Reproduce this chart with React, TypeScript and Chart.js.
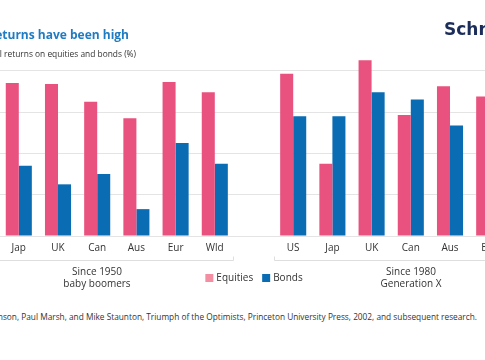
import React, { useEffect, useRef } from "react";
import { Chart, registerables } from "chart.js";

Chart.register(...registerables);

const categories = ["US", "Jap", "UK", "Can", "Aus", "Eur", "Wld", "", "US", "Jap", "UK", "Can", "Aus", "Eur", "Wld"];
const equities = [7.0, 7.4, 7.35, 6.5, 5.7, 7.45, 6.95, null, 7.85, 3.5, 8.5, 5.85, 7.25, 6.75, 6.5];
const bonds = [2.6, 3.4, 2.5, 3.0, 1.3, 4.5, 3.5, null, 5.8, 5.8, 6.95, 6.6, 5.35, 6.1, 6.2];
const yTicks = [0, 2, 4, 6, 8];
const groupLabels = [["Since 1950", "baby boomers"], ["Since 1980", "Generation X"]];
const groupRanges = [[0, 6], [8, 14]];
const seriesNames = ["Equities", "Bonds"];

const PINK = "#e9527f";
const PINK_LEGEND = "#f48ea3";
const BLUE = "#0a6db4";
const FONT = "'Open Sans', 'Noto Sans', sans-serif";

const groupPlugin = {
  id: "groupPlugin",
  afterDraw(chart: any) {
    const ctx = chart.ctx;
    const x = chart.scales.x;
    const area = chart.chartArea;
    const half = (x.getPixelForValue(1) - x.getPixelForValue(0)) / 2;
    const yb = Math.round(area.bottom + 24) + 0.5;
    ctx.save();
    ctx.strokeStyle = "#dedede";
    ctx.lineWidth = 1;
    ctx.fillStyle = "#333333";
    ctx.font = `10px ${FONT}`;
    ctx.textAlign = "center";
    ctx.textBaseline = "middle";
    groupRanges.forEach(([a, b], i) => {
      const l = Math.round(x.getPixelForValue(a) - half) + 0.5;
      const r = Math.round(x.getPixelForValue(b) + half) - 0.5;
      ctx.beginPath();
      ctx.moveTo(l, yb - 4);
      ctx.lineTo(l, yb);
      ctx.lineTo(r, yb);
      ctx.lineTo(r, yb - 4);
      ctx.stroke();
      const cx = (l + r) / 2;
      groupLabels[i].forEach((t, j) => {
        ctx.fillText(t, cx, area.bottom + 36 + j * 12.5);
      });
    });
    // legend
    const colors = [PINK_LEGEND, BLUE];
    const box = 8;
    const gapText = 3;
    const gapItem = 9;
    const widths = seriesNames.map((n) => box + gapText + ctx.measureText(n).width);
    const total = widths.reduce((s, w) => s + w, 0) + gapItem * (seriesNames.length - 1);
    let lx = (area.left + area.right) / 2 - total / 2;
    const ly = area.bottom + 42;
    ctx.textAlign = "left";
    seriesNames.forEach((n, i) => {
      ctx.fillStyle = colors[i];
      ctx.fillRect(lx, ly - box / 2, box, box);
      ctx.fillStyle = "#333333";
      ctx.fillText(n, lx + box + gapText, ly);
      lx += widths[i] + gapItem;
    });
    ctx.restore();
  },
};

function ChartView() {
  const ref = useRef<HTMLCanvasElement>(null);
  useEffect(() => {
    const chart = new Chart(ref.current!, {
      type: "bar",
      data: {
        labels: categories,
        datasets: [
          { label: seriesNames[0], data: equities, backgroundColor: PINK, barPercentage: 1, categoryPercentage: 0.665 },
          { label: seriesNames[1], data: bonds, backgroundColor: BLUE, barPercentage: 1, categoryPercentage: 0.665 },
        ],
      },
      options: {
        animation: false,
        responsive: false,
        maintainAspectRatio: false,
        layout: { padding: { top: 50, left: 0, right: 0, bottom: 0 } },
        plugins: { legend: { display: false }, tooltip: { enabled: false }, title: { display: false } },
        scales: {
          x: {
            grid: { display: false, drawTicks: false },
            border: { display: false },
            ticks: { color: "#333333", font: { family: FONT, size: 10 }, padding: 6, maxRotation: 0, autoSkip: false },
            afterFit: (s: any) => {
              s.height = 64;
            },
          },
          y: {
            min: 0,
            max: 9,
            grid: { color: "#e4e4e4", drawTicks: false },
            border: { display: false },
            ticks: { display: false },
            afterBuildTicks: (axis: any) => {
              axis.ticks = yTicks.map((v) => ({ value: v }));
            },
          },
        },
      },
      plugins: [groupPlugin],
    });
    return () => chart.destroy();
  }, []);
  return (
    <canvas
      ref={ref}
      width={588}
      height={300}
      style={{ position: "absolute", left: -40, top: 0, width: 588, height: 300 }}
    />
  );
}

export default function App() {
  return (
    <div
      style={{
        position: "fixed",
        left: 0,
        top: 0,
        width: 485,
        height: 360,
        overflow: "hidden",
        background: "#ffffff",
        fontFamily: FONT,
      }}
    >
      <ChartView />
      <div
        style={{
          position: "absolute",
          right: 485 - 129,
          top: 27,
          whiteSpace: "nowrap",
          fontSize: 12,
          lineHeight: "16px",
          fontWeight: 700,
          color: "#1f7cc2",
        }}
      >
        Real returns have been high
      </div>
      <div
        style={{
          position: "absolute",
          right: 485 - 136,
          top: 49,
          whiteSpace: "nowrap",
          fontSize: 8.4,
          lineHeight: "10px",
          color: "#333333",
        }}
      >
        Annualised real returns on equities and bonds (%)
      </div>
      <div
        style={{
          position: "absolute",
          left: 444,
          top: 19,
          whiteSpace: "nowrap",
          fontSize: 17,
          lineHeight: "20px",
          fontWeight: 700,
          fontFamily: "'DejaVu Sans', sans-serif",
          color: "#1c2d5a",
        }}
      >
        Schroders
      </div>
      <div
        style={{
          position: "absolute",
          right: 485 - 477,
          top: 312,
          whiteSpace: "nowrap",
          fontSize: 8.3,
          lineHeight: "10px",
          color: "#333333",
        }}
      >
        Source: Elroy Dimson, Paul Marsh, and Mike Staunton, Triumph of the Optimists, Princeton University Press, 2002, and subsequent research.
      </div>
    </div>
  );
}
